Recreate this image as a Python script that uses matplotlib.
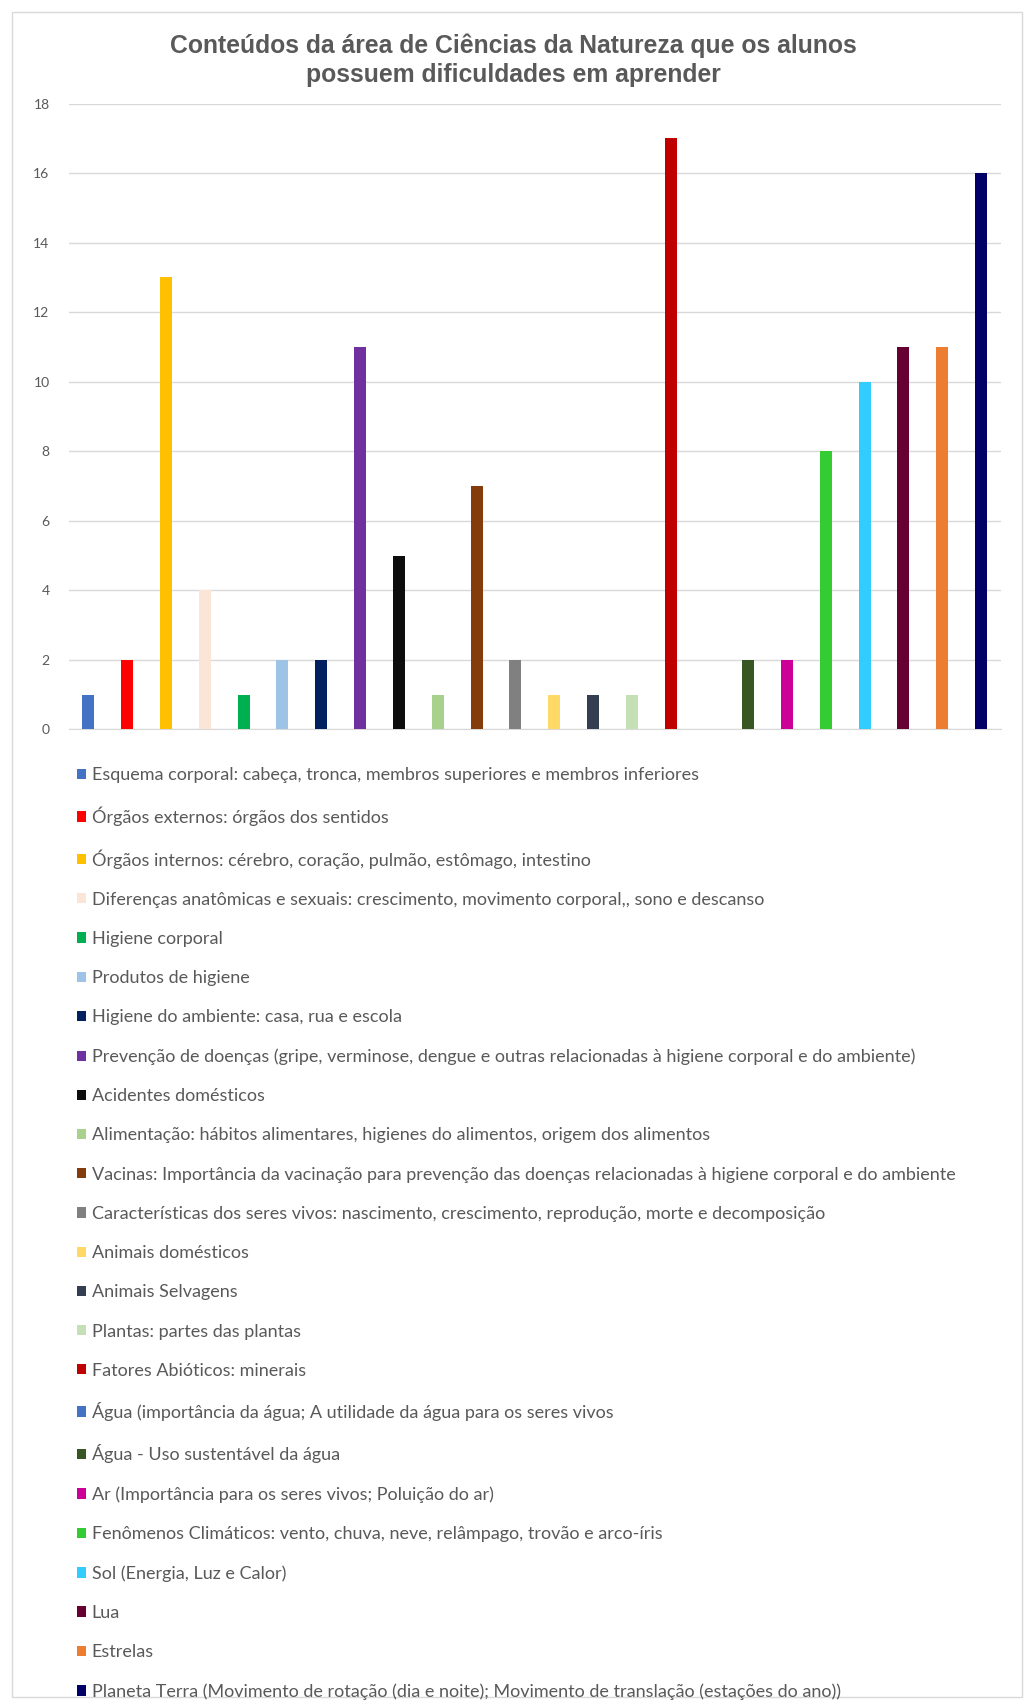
import numpy as np
import matplotlib
matplotlib.use("Agg")
import matplotlib.pyplot as plt
from matplotlib.patches import Patch, Rectangle

# ---------- data ----------
categorias = [
    "Esquema corporal: cabeça, tronca, membros superiores e membros inferiores",
    "Órgãos externos: órgãos dos sentidos",
    "Órgãos internos: cérebro, coração, pulmão, estômago, intestino",
    "Diferenças anatômicas e sexuais: crescimento, movimento corporal,, sono e descanso",
    "Higiene corporal",
    "Produtos de higiene",
    "Higiene do ambiente: casa, rua e escola",
    "Prevenção de doenças (gripe, verminose, dengue e outras relacionadas à higiene corporal e do ambiente)",
    "Acidentes domésticos",
    "Alimentação: hábitos alimentares, higienes do alimentos, origem dos alimentos",
    "Vacinas: Importância da vacinação para prevenção das doenças relacionadas à higiene corporal e do ambiente",
    "Características dos seres vivos: nascimento, crescimento, reprodução, morte e decomposição",
    "Animais domésticos",
    "Animais Selvagens",
    "Plantas: partes das plantas",
    "Fatores Abióticos: minerais",
    "Água (importância da água; A utilidade da água para os seres vivos",
    "Água - Uso sustentável da água",
    "Ar (Importância para os seres vivos; Poluição do ar)",
    "Fenômenos Climáticos: vento, chuva, neve, relâmpago, trovão e arco-íris",
    "Sol (Energia, Luz e Calor)",
    "Lua",
    "Estrelas",
    "Planeta Terra (Movimento de rotação (dia e noite); Movimento de translação (estações do ano))",
]
valores = [1, 2, 13, 4, 1, 2, 2, 11, 5, 1, 7, 2, 1, 1, 1, 17, 0, 2, 2, 8, 10, 11, 11, 16]
cores = ["#4472C4", "#FF0000", "#FFC000", "#FBE5D6", "#00B050", "#9DC3E6",
         "#002060", "#7030A0", "#0D0D0D", "#A9D18E", "#843C0C", "#808080",
         "#FFD966", "#333F50", "#C5E0B4", "#C00000", "#4472C4", "#375623",
         "#CC0099", "#33CC33", "#33CCFF", "#660033", "#ED7D31", "#000066"]
yticks = [0, 2, 4, 6, 8, 10, 12, 14, 16, 18]

TXT = "#595959"

fig = plt.figure(figsize=(10.27, 17.0), dpi=100)
ax = fig.add_axes([0.0672, 0.571, 0.907, 0.368])

x = np.arange(len(valores))
ax.bar(x, valores, width=0.31, color=cores, zorder=3)
ax.set_xlim(-0.5, len(valores) - 0.5)
ax.set_ylim(0, 18)
ax.set_yticks(yticks)
ax.set_xticks([])
ax.grid(axis="y", color="#D9D9D9", linewidth=1.0, zorder=0)
for s in ["top", "right", "left"]:
    ax.spines[s].set_visible(False)
ax.spines["bottom"].set_color("#D9D9D9")
ax.tick_params(axis="y", length=0, colors=TXT, labelsize=10, pad=14)
for lab in ax.get_yticklabels():
    lab.set_fontfamily("Lato")

fig.text(0.5, 0.9645, "Conteúdos da área de Ciências da Natureza que os alunos\npossuem dificuldades em aprender",
         ha="center", va="center", fontsize=17.8, fontweight="bold", color=TXT,
         family="Liberation Sans", linespacing=1.25)

handles = [Patch(facecolor=c, edgecolor="none") for c in cores]
leg = fig.legend(handles, categorias, loc="upper left", bbox_to_anchor=(0.068, 0.553),
                 frameon=False, handlelength=0.5, handleheight=0.5, handletextpad=0.3,
                 labelspacing=1.285, borderaxespad=0, prop={"family": "Lato", "size": 13})
for t in leg.get_texts():
    t.set_color(TXT)

# thin outer border of the chart area
fig.patches.append(Rectangle((0.012, 0.002), 0.983, 0.991, transform=fig.transFigure,
                             fill=False, edgecolor="#D9D9D9", linewidth=1.0))

fig.savefig("out.png", dpi=100)
